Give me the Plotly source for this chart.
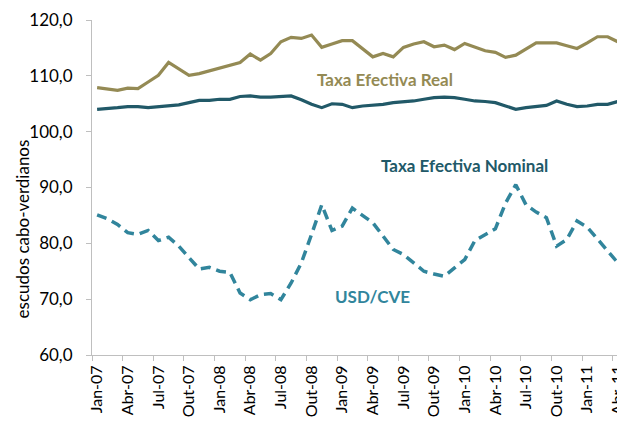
import plotly.graph_objects as go

months = ["Jan", "Fev", "Mar", "Abr", "Mai", "Jun", "Jul", "Ago", "Set", "Out", "Nov", "Dez"]
categories = [f"{m}-{y:02d}" for y in range(7, 12) for m in months][:52]  # Jan-07 .. Abr-11

taxa_real = [107.9, 107.7, 107.4, 107.8, 107.7, 108.9, 110.1, 112.4, 111.3, 110.1, 110.4, 110.9,
             111.5, 112.0, 112.4, 113.9, 112.8, 114.0, 116.1, 116.9, 116.7, 117.3, 115.1, 115.7,
             116.3, 116.3, 114.9, 113.4, 114.0, 113.4, 115.1, 115.7, 116.1, 115.2, 115.5, 114.7,
             115.8, 115.1, 114.5, 114.2, 113.3, 113.7, 114.8, 115.9, 115.9, 115.9, 115.4, 114.9,
             115.9, 117.0, 117.0, 116.1]

taxa_nominal = [104.0, 104.1, 104.3, 104.5, 104.5, 104.3, 104.5, 104.6, 104.8, 105.2, 105.6, 105.6,
                105.8, 105.8, 106.3, 106.4, 106.2, 106.2, 106.3, 106.4, 105.7, 104.9, 104.3, 105.0,
                104.9, 104.3, 104.6, 104.7, 104.9, 105.2, 105.3, 105.5, 105.8, 106.1, 106.2, 106.1,
                105.8, 105.5, 105.4, 105.2, 104.6, 104.0, 104.3, 104.5, 104.7, 105.5, 104.9, 104.5,
                104.6, 104.9, 104.9, 105.4]

usd_cve = [85.1, 84.4, 83.4, 81.9, 81.6, 82.3, 80.5, 81.1, 79.5, 77.5, 75.4, 75.7,
           75.0, 74.8, 71.1, 69.9, 70.8, 71.0, 69.9, 72.9, 76.5, 81.6, 86.9, 82.3,
           83.1, 86.3, 85.0, 83.7, 81.3, 78.9, 78.0, 76.5, 75.0, 74.5, 74.1, 75.6,
           77.1, 80.5, 81.6, 82.6, 87.2, 90.5, 86.9, 85.6, 84.6, 79.5, 80.7, 84.0,
           82.9, 80.7, 78.6, 76.5]

tick_labels = categories[::3]
y_ticks = [60, 70, 80, 90, 100, 110, 120]

C_REAL = "#948A54"
C_NOM = "#215968"
C_USD = "#31859C"
FONT = "Lato"

x = list(range(len(categories)))

fig = go.Figure()
fig.add_trace(go.Scatter(x=x, y=taxa_real, mode="lines", name="Taxa Efectiva Real",
                         line=dict(color=C_REAL, width=3.2)))
fig.add_trace(go.Scatter(x=x, y=taxa_nominal, mode="lines", name="Taxa Efectiva Nominal",
                         line=dict(color=C_NOM, width=3.2)))
fig.add_trace(go.Scatter(x=x, y=usd_cve, mode="lines", name="USD/CVE",
                         line=dict(color=C_USD, width=3.5, dash="10px,6px")))

ann = [
    ("Taxa Efectiva Real", 28.2, 109.3, C_REAL),
    ("Taxa Efectiva Nominal", 36.0, 93.9, C_NOM),
    ("USD/CVE", 27.0, 70.4, C_USD),
]
for text, ax_, ay_, col in ann:
    fig.add_annotation(x=ax_, y=ay_, text=f"<b>{text}</b>", showarrow=False,
                       font=dict(family=FONT, size=17, color=col), xanchor="center", yanchor="middle")

fig.add_annotation(xref="paper", yref="paper", x=0, y=0.375, xshift=-70, textangle=-90,
                   text="escudos cabo-verdianos", showarrow=False,
                   font=dict(family=FONT, size=17, color="#000000"),
                   xanchor="center", yanchor="middle")

# page body has an 8px default margin, so the figure is sized/offset to fill the 625x427 window
fig.update_layout(
    width=617, height=419,
    margin=dict(l=84, r=2, t=12, b=72, autoexpand=False),
    plot_bgcolor="white", paper_bgcolor="white",
    showlegend=False,
    separators=",.",
    font=dict(family=FONT, size=16, color="#000000"),
)
fig.update_xaxes(
    range=[-0.5, 51.5], tickmode="array", tickvals=x[::3], ticktext=tick_labels,
    tickangle=-90, ticks="", showgrid=False, zeroline=False, automargin=False,
    showline=True, linecolor="#BFBFBF", linewidth=1, ticklabeloverflow="allow",
    ticklabelstandoff=3,
    tickfont=dict(family=FONT, size=16, color="#000000"),
    minor=dict(tickmode="array", tickvals=[v - 0.5 for v in x[::3]] + [51.5], ticks="outside",
               ticklen=5, tickcolor="#BFBFBF", showgrid=False),
)
fig.update_yaxes(
    range=[60, 120], tickmode="array", tickvals=y_ticks, tickformat=".1f",
    ticks="outside", ticklen=5, tickcolor="#BFBFBF", showgrid=False, zeroline=False,
    showline=True, linecolor="#BFBFBF", linewidth=1, automargin=False,
    ticklabelstandoff=10, ticklabeloverflow="allow",
    tickfont=dict(family=FONT, size=17, color="#000000"),
)

fig.write_html("out.html")
